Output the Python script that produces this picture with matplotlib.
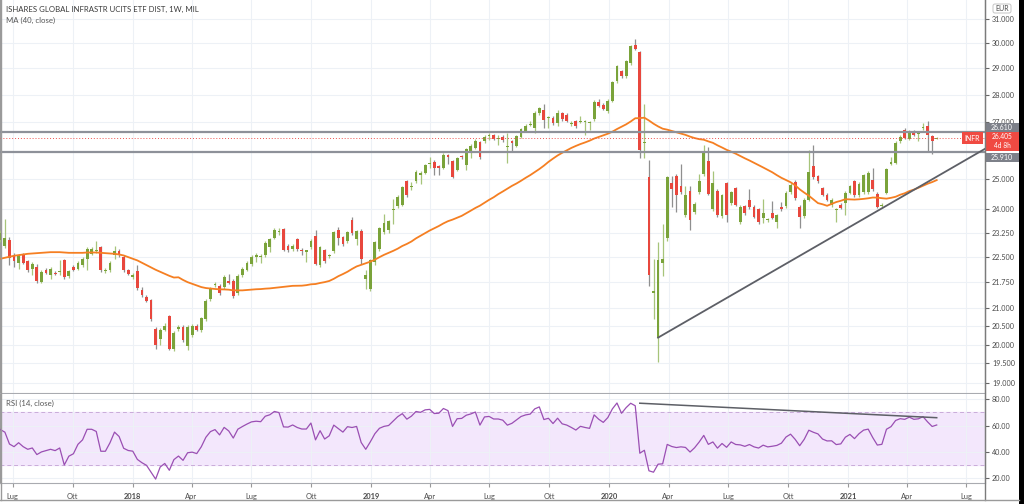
import numpy as np
import pandas as pd
import matplotlib
matplotlib.use("Agg")
import matplotlib.pyplot as plt
import matplotlib.dates as mdates
from matplotlib.patches import Rectangle, FancyBboxPatch
from matplotlib.ticker import FuncFormatter, NullLocator
from matplotlib.lines import Line2D

plt.rcParams['font.family'] = ['Lato', 'DejaVu Sans']

title = "ISHARES GLOBAL INFRASTR UCITS ETF DIST, 1W, MIL"
ma_label = "MA (40, close)"
rsi_label = "RSI (14, close)"
currency = "EUR"
symbol = "INFR"
countdown = "4d 8h"
start_date = "2017-06-12"

opens = [
    23.03, 22.84, 23.03, 22.55, 22.33, 22.56, 22.37, 22.14, 22.19, 21.77,
    22.10, 21.97, 22.03, 22.05, 22.40, 21.94, 22.20, 22.14, 22.25, 22.44,
    22.60, 22.68, 22.80, 22.08, 22.10, 22.55, 22.68, 22.50, 22.10, 21.90,
    22.07, 21.54, 21.33, 21.24, 20.43, 20.16, 20.41, 20.78, 19.88, 20.43,
    20.48, 19.96, 20.27, 20.51, 20.39, 20.69, 21.26, 21.67, 21.65, 21.60,
    21.79, 21.79, 21.43, 21.96, 22.12, 22.28, 22.50, 22.50, 22.56, 22.80,
    23.10, 23.28, 23.36, 22.85, 22.75, 23.06, 22.73, 22.67, 22.80, 23.15,
    22.25, 22.72, 22.53, 22.68, 23.34, 23.11, 22.98, 23.65, 23.04, 23.30,
    21.84, 21.55, 22.35, 22.75, 23.28, 23.34, 23.97, 24.11, 24.15, 24.92,
    24.72, 24.92, 25.13, 25.20, 25.50, 25.58, 25.42, 25.38, 25.81, 25.60,
    25.30, 25.78, 25.47, 25.88, 26.06, 26.27, 26.29, 26.48, 26.50, 26.36,
    26.45, 26.10, 26.29, 26.14, 26.45, 26.67, 26.88, 26.78, 27.30, 27.44,
    27.12, 27.14, 26.94, 27.32, 27.23, 26.92, 27.03, 27.00, 26.97, 26.94,
    27.08, 27.71, 27.62, 27.37, 27.77, 28.50, 28.90, 28.70, 29.20, 29.95,
    29.65, 26.22, 25.06, 21.45, 20.19, 22.33, 23.08, 24.87, 25.11, 24.77,
    23.80, 24.59, 23.90, 24.55, 25.15, 25.60, 23.99, 24.60, 23.78, 24.85,
    24.20, 24.69, 23.58, 24.10, 24.31, 24.07, 23.99, 23.70, 23.65, 23.86,
    23.58, 24.06, 24.10, 24.55, 24.90, 24.07, 23.78, 24.31, 25.42, 25.09,
    24.69, 24.47, 24.13, 23.97, 24.15, 24.20, 24.53, 24.92, 24.45, 24.55,
    24.55, 24.96, 24.50, 24.11, 24.53, 25.52, 25.54, 26.29, 26.71, 26.38,
    26.65, 26.56, 26.77, 26.84, 26.47, 26.38,
]
highs = [
    23.35, 23.67, 23.12, 22.62, 22.60, 22.62, 22.42, 22.35, 22.30, 22.10,
    22.16, 22.20, 22.08, 22.40, 22.45, 22.12, 22.25, 22.38, 22.50, 22.80,
    22.80, 22.99, 22.85, 22.16, 22.38, 22.85, 22.74, 22.55, 22.14, 22.02,
    22.25, 21.60, 21.38, 21.28, 20.48, 20.45, 20.58, 20.82, 20.38, 20.53,
    20.53, 20.53, 20.56, 20.56, 20.77, 21.27, 21.62, 21.75, 21.70, 21.97,
    22.00, 21.84, 21.99, 22.20, 22.38, 22.55, 22.62, 22.58, 22.99, 23.10,
    23.39, 23.40, 23.40, 22.90, 22.90, 23.10, 22.78, 22.72, 23.05, 23.33,
    22.85, 22.76, 22.60, 23.30, 23.42, 23.15, 23.32, 23.75, 23.35, 23.36,
    22.10, 22.45, 23.00, 23.44, 23.84, 23.66, 24.33, 24.45, 24.77, 24.97,
    24.89, 25.29, 25.25, 25.52, 25.75, 25.65, 25.46, 25.88, 25.86, 25.65,
    25.75, 25.83, 26.07, 26.19, 26.37, 26.32, 26.50, 26.58, 26.55, 26.53,
    26.50, 26.58, 26.33, 26.52, 26.77, 26.90, 27.03, 27.37, 27.55, 27.65,
    27.20, 27.20, 27.44, 27.36, 27.30, 27.03, 27.06, 27.20, 27.05, 27.02,
    27.78, 27.85, 27.67, 27.82, 28.50, 29.15, 28.95, 29.35, 29.94, 30.17,
    29.70, 27.65, 25.64, 22.44, 22.95, 23.52, 25.10, 25.11, 25.15, 25.50,
    24.77, 24.77, 24.22, 25.15, 26.16, 26.10, 25.26, 24.65, 24.50, 24.90,
    24.60, 24.74, 24.13, 24.15, 24.65, 24.12, 24.04, 24.33, 23.72, 24.27,
    23.85, 24.22, 24.58, 24.85, 24.95, 24.12, 24.36, 25.99, 26.16, 25.14,
    24.74, 24.52, 24.36, 24.05, 24.20, 24.58, 24.80, 24.97, 24.88, 25.17,
    25.25, 25.35, 24.55, 24.20, 25.37, 25.75, 26.29, 26.50, 26.76, 26.70,
    26.70, 26.62, 26.95, 27.03, 26.50, 26.45,
]
lows = [
    22.95, 22.78, 22.25, 22.20, 22.14, 22.28, 22.05, 21.95, 21.72, 21.72,
    21.98, 21.85, 21.96, 21.95, 21.85, 21.88, 22.08, 22.10, 22.20, 22.10,
    22.55, 22.62, 22.05, 22.02, 22.05, 22.45, 22.50, 22.05, 21.95, 21.85,
    21.52, 21.33, 21.17, 20.66, 19.88, 19.98, 20.36, 19.85, 19.84, 20.38,
    20.08, 19.85, 20.22, 20.36, 20.34, 20.64, 21.21, 21.60, 21.38, 21.55,
    21.70, 21.30, 21.38, 21.90, 22.08, 22.24, 22.35, 22.33, 22.50, 22.65,
    23.05, 23.18, 22.68, 22.67, 22.70, 22.70, 22.55, 22.35, 22.75, 22.25,
    22.20, 22.32, 22.48, 22.62, 22.87, 22.85, 22.93, 23.18, 22.87, 22.30,
    21.55, 21.50, 22.27, 22.70, 23.22, 23.24, 23.52, 24.05, 24.10, 24.40,
    24.62, 24.87, 24.84, 25.15, 25.35, 25.13, 25.13, 25.33, 25.52, 25.02,
    25.25, 25.68, 25.30, 25.70, 26.01, 25.67, 26.24, 26.35, 26.33, 26.17,
    26.28, 25.55, 25.92, 26.10, 26.40, 26.62, 26.84, 26.60, 27.25, 26.78,
    26.78, 26.88, 26.84, 27.03, 26.98, 26.84, 26.78, 26.96, 26.50, 26.71,
    27.03, 27.55, 27.42, 27.30, 27.72, 28.45, 28.64, 28.65, 29.15, 29.73,
    25.70, 25.70, 21.63, 20.70, 19.55, 21.94, 23.00, 24.08, 23.92, 24.50,
    23.75, 23.34, 23.85, 24.50, 25.10, 24.45, 23.95, 23.75, 23.73, 23.60,
    24.15, 24.09, 23.53, 23.81, 24.02, 23.70, 23.54, 23.55, 23.60, 23.68,
    23.39, 23.94, 24.05, 24.50, 24.31, 23.40, 23.73, 24.26, 25.00, 24.87,
    24.42, 24.25, 24.08, 23.60, 23.99, 23.80, 24.48, 24.40, 24.40, 24.50,
    24.50, 24.60, 24.03, 24.05, 24.48, 25.47, 25.50, 26.24, 26.36, 26.33,
    26.48, 26.29, 26.70, 25.92, 25.85, 26.36,
]
closes = [
    23.24, 23.08, 22.46, 22.37, 22.55, 22.33, 22.12, 22.28, 21.79, 22.05,
    22.03, 22.14, 22.00, 22.08, 21.90, 22.07, 22.12, 22.33, 22.44, 22.75,
    22.75, 22.70, 22.10, 22.10, 22.33, 22.69, 22.55, 22.10, 22.00, 21.97,
    21.57, 21.38, 21.22, 20.71, 19.98, 20.39, 20.52, 19.88, 20.32, 20.48,
    20.13, 20.48, 20.51, 20.41, 20.72, 21.22, 21.57, 21.70, 21.43, 21.92,
    21.74, 21.35, 21.94, 22.14, 22.33, 22.50, 22.55, 22.53, 22.94, 23.06,
    23.34, 23.30, 22.73, 22.72, 22.85, 22.75, 22.69, 22.69, 23.00, 22.30,
    22.80, 22.37, 22.55, 23.26, 23.08, 22.90, 23.27, 23.23, 23.30, 22.44,
    21.96, 22.40, 22.96, 23.39, 23.55, 23.62, 23.99, 24.41, 24.72, 24.45,
    24.74, 25.24, 25.20, 25.47, 25.52, 25.35, 25.38, 25.83, 25.75, 25.06,
    25.70, 25.73, 26.02, 26.14, 26.32, 25.73, 26.45, 26.50, 26.38, 26.38,
    26.33, 26.12, 26.24, 26.47, 26.72, 26.84, 26.90, 27.32, 27.50, 27.05,
    27.14, 26.94, 27.30, 27.08, 27.03, 26.94, 26.84, 27.03, 26.99, 26.96,
    27.73, 27.58, 27.47, 27.77, 28.46, 29.10, 28.69, 29.30, 29.89, 29.78,
    25.98, 26.26, 21.96, 21.50, 22.40, 22.44, 25.06, 24.65, 24.45, 24.55,
    24.45, 23.65, 24.18, 24.93, 25.89, 24.50, 24.85, 23.80, 24.45, 23.80,
    24.55, 24.14, 24.08, 23.86, 24.07, 23.75, 23.59, 23.88, 23.67, 23.73,
    23.80, 23.99, 24.53, 24.80, 24.36, 23.75, 24.31, 25.24, 25.06, 24.92,
    24.47, 24.30, 24.31, 23.99, 24.04, 24.53, 24.75, 24.45, 24.83, 25.12,
    25.20, 24.65, 24.08, 24.13, 25.32, 25.58, 26.24, 26.45, 26.41, 26.65,
    26.53, 26.58, 26.79, 26.53, 26.29, 26.405,
]

# MA(40) values visible on the chart before 40 weeks of data exist
ma_early = [
    22.45, 22.48, 22.51, 22.54, 22.56, 22.58, 22.60, 22.61, 22.62, 22.63,
    22.64, 22.65, 22.65, 22.65, 22.64, 22.63, 22.63, 22.63, 22.63, 22.64,
    22.64, 22.64, 22.63, 22.62, 22.61, 22.60, 22.58, 22.55, 22.50, 22.45,
    22.40, 22.33, 22.26, 22.19, 22.12, 22.06, 22.00, 21.94, 21.89,
]
# RSI(14) values visible on the chart during the first 14 weeks
rsi_early = [57, 55, 46, 44, 47, 44, 42, 43, 38, 40, 41, 42, 41, 43]

price_ticks = [19.0, 19.5, 20.0, 20.5, 21.0, 21.75, 22.5, 23.25, 24.0, 25.0,
               27.0, 28.0, 29.0, 30.0, 31.0]
rsi_ticks = [20, 40, 60, 80]
tick_dates = ['2017-07-01', '2017-10-01', '2018-01-01', '2018-04-01', '2018-07-01',
              '2018-10-01', '2019-01-01', '2019-04-01', '2019-07-01', '2019-10-01',
              '2020-01-01', '2020-04-01', '2020-07-01', '2020-10-01', '2021-01-01',
              '2021-04-01', '2021-07-01']
tick_labels = ['Lug', 'Ott', '2018', 'Apr', 'Lug', 'Ott', '2019', 'Apr', 'Lug', 'Ott',
               '2020', 'Apr', 'Lug', 'Ott', '2021', 'Apr', 'Lug']
levels = [26.61, 25.91]
last_price = 26.405
trend_dates = ['2020-03-16', '2021-07-30']
trend_prices = [20.19, 26.03]
rsi_trend_dates = ['2020-02-17', '2021-05-17']
rsi_trend_values = [77.0, 66.0]
x_range = ['2017-06-11 12:00', '2021-07-30 00:00']
price_range = [18.74, 31.80]
rsi_range = [16.4, 84.0]

# ---------------------------------------------------------------
W, H = 1024, 504
fig = plt.figure(figsize=(W / 100, H / 100), dpi=100)
fig.patch.set_facecolor('white')

ax = fig.add_axes([0, 1 - 393 / H, 985 / W, 393 / H])
rax = fig.add_axes([0, 1 - 483 / H, 985 / W, 89 / H])

dates = pd.date_range(start_date, periods=len(closes), freq='7D')
x = mdates.date2num(dates)
o = np.array(opens); hi = np.array(highs); lo = np.array(lows); c = np.array(closes)
up = c >= o

green = '#7aa33a'
red = '#e8473d'
grid_c = '#edf1f6'
txt_c = '#4a4a4a'

ax.set_yscale('log')
ax.vlines(x[up], lo[up], hi[up], color='#a7c47a', lw=0.9, zorder=3)
ax.vlines(x[~up], lo[~up], hi[~up], color='#8f8f8f', lw=0.9, zorder=3)
bottom = np.minimum(o, c)
height = np.maximum(np.abs(c - o), 0.035)
ax.bar(x[up], height[up], bottom=bottom[up], width=4.3, color=green, lw=0, zorder=4)
ax.bar(x[~up], height[~up], bottom=bottom[~up], width=4.3, color=red, lw=0, zorder=4)

cs = pd.Series(closes)
ma = cs.rolling(40).mean().to_numpy()
ma[:len(ma_early)] = ma_early
ax.plot(x, ma, color='#f57f22', lw=1.3, zorder=5)

for lv in levels:
    ax.axhline(lv, color='#8e9199', lw=1.6, zorder=6)
ax.axhline(last_price, color='#ef5350', lw=0.7, ls=(0, (1, 2)), zorder=6)

tx = mdates.date2num(pd.to_datetime(trend_dates))
ax.plot(tx, trend_prices, color='#5d5f66', lw=1.3, zorder=7)

xl = mdates.date2num(pd.to_datetime(x_range))
ax.set_xlim(*xl)
ax.set_ylim(*price_range)
tick_x = mdates.date2num(pd.to_datetime(tick_dates))

for a in (ax, rax):
    a.set_xticks(tick_x)
    a.grid(True, color=grid_c, lw=0.8)
    a.set_axisbelow(True)
    a.yaxis.tick_right()
    a.tick_params(axis='y', which='major', length=3, color='#666', labelsize=5.2,
                  labelcolor=txt_c, pad=2, direction='out')
    a.spines['top'].set_visible(False)
    a.spines['left'].set_color('#9a9a9a')
    a.spines['right'].set_color('#7b7b7b')
    a.spines['bottom'].set_color('#a9abb0')

ax.set_yticks(price_ticks)
ax.yaxis.set_major_formatter(FuncFormatter(lambda v, p: f'{v:.3f}'))
ax.yaxis.set_minor_locator(NullLocator())
ax.tick_params(axis='x', length=0, labelbottom=False)

# RSI
delta = cs.diff()
gain = delta.clip(lower=0)
loss = (-delta).clip(lower=0)
ag = gain.ewm(alpha=1 / 14, adjust=True).mean()
al = loss.ewm(alpha=1 / 14, adjust=True).mean()
rsi = (100 - 100 / (1 + ag / al)).to_numpy()
rsi[:len(rsi_early)] = rsi_early

rax.axhspan(30, 70, color='#f3e7fc', zorder=0)
rax.axhline(70, color='#c9acd9', lw=0.7, ls=(0, (4, 3)), zorder=1)
rax.axhline(30, color='#c9acd9', lw=0.7, ls=(0, (4, 3)), zorder=1)
rax.plot(x, rsi, color='#9a4fb3', lw=0.9, zorder=3)
rtx = mdates.date2num(pd.to_datetime(rsi_trend_dates))
rax.plot(rtx, rsi_trend_values, color='#5d5f66', lw=1.1, zorder=4)
rax.set_xlim(*xl)
rax.set_ylim(*rsi_range)
rax.set_yticks(rsi_ticks)
rax.yaxis.set_major_formatter(FuncFormatter(lambda v, p: f'{v:.2f}'))
rax.set_xticklabels(tick_labels)
rax.tick_params(axis='x', length=3, color='#999', labelsize=5.4, labelcolor=txt_c, pad=4)
for lab in rax.get_xticklabels():
    if lab.get_text().isdigit():
        lab.set_fontweight('bold')

# overlay in pixel coordinates
ov = fig.add_axes([0, 0, 1, 1], zorder=20)
ov.set_xlim(0, W)
ov.set_ylim(H, 0)
ov.axis('off')
ov.patch.set_alpha(0)


def ypx(price):
    return H - ax.transData.transform((x[0], price))[1]


ov.add_line(Line2D([985, 985], [0, 500], color='#7b7b7b', lw=1))
ov.add_line(Line2D([0, 1019], [500, 500], color='#9a9a9a', lw=1))
ov.add_line(Line2D([1, 1], [0, 500], color='#9a9a9a', lw=1))
ov.add_patch(Rectangle((1019, 0), 5, H, color='black', lw=0))

y1 = ypx(levels[0])
y2 = ypx(levels[1])
yl = ypx(last_price)
gray_box = '#7d8089'
ov.add_patch(Rectangle((985, y1 - 9), 34, 9, color=gray_box, lw=0))
ov.text(1002, y1 - 4.5, f'{levels[0]:.3f}', color='white', fontsize=5.0, ha='center', va='center')
ov.add_patch(Rectangle((985, y2 + 1), 34, 9, color=gray_box, lw=0))
ov.text(1002, y2 + 5.5, f'{levels[1]:.3f}', color='white', fontsize=5.0, ha='center', va='center')
ov.add_patch(Rectangle((985, yl - 6), 34, 19, color='#f04a42', lw=0))
ov.text(1002, yl - 1.8, f'{last_price:.3f}', color='white', fontsize=4.8, ha='center', va='center')
ov.text(1002, yl + 7.8, countdown, color='white', fontsize=4.8, ha='center', va='center')
ov.add_patch(Rectangle((962, yl - 6), 21, 12, color='#f04a42', lw=0))
ov.text(972.5, yl, symbol, color='white', fontsize=5.0, ha='center', va='center')
ov.add_patch(FancyBboxPatch((993, 4), 18, 9, boxstyle='round,pad=0,rounding_size=2',
                            fc='white', ec='#c4c4c4', lw=0.7))
ov.text(1002, 8.7, currency, color=txt_c, fontsize=5, ha='center', va='center')

ov.text(6, 9, title, color='#3a3a3a', fontsize=5.6, ha='left', va='center')
ov.text(6, 20, ma_label, color='#555555', fontsize=5.6, ha='left', va='center')
ov.text(6, 403, rsi_label, color='#555555', fontsize=5.6, ha='left', va='center')

fig.savefig('out.png', dpi=100)
